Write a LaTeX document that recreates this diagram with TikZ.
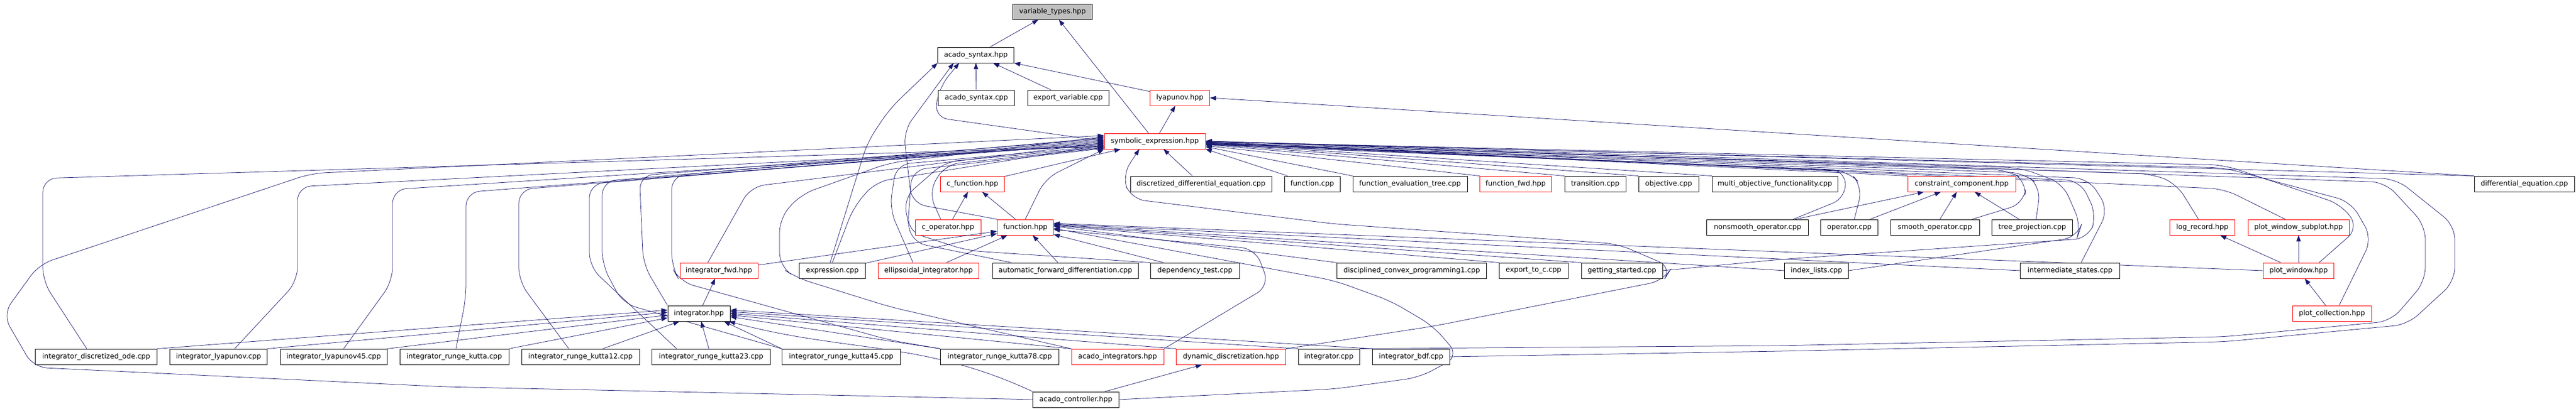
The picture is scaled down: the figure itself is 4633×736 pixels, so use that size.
\documentclass[tikz,border=0pt]{standalone}
\usepackage{fontspec}
\newfontfamily\dejavu{DejaVu Sans}
\usetikzlibrary{arrows.meta}
\definecolor{edgeblue}{HTML}{191970}
\definecolor{rootgray}{HTML}{BFBFBF}
\pgfdeclarelayer{background}
\pgfsetlayers{background,main}
\tikzset{
  file/.style={draw=black, fill=white, line width=0.9pt, minimum height=28pt, inner sep=0pt, font=\dejavu\fontsize{12.6}{14}\selectfont},
  trunc/.style={file, draw=red},
  root/.style={file, fill=rootgray},
  inc/.style={draw=edgeblue, line width=0.75pt, -{Triangle[length=11pt,width=8pt]}},
  via/.style={inc, rounded corners=25pt},
}
\begin{document}
\begin{tikzpicture}[x=1pt, y=1pt]
\useasboundingbox (0,0) rectangle (4633,736);

% top ranks
\node[root, minimum width=143pt]  (vt)    at (1893,715) {variable\_types.hpp};
\node[file, minimum width=137pt]  (as)    at (1755,637) {acado\_syntax.hpp} edge[inc] (vt);
\node[file, minimum width=137pt]  (ascpp) at (1756,560) {acado\_syntax.cpp} edge[inc] (as);
\node[file, minimum width=146pt]  (ev)    at (1921,560) {export\_variable.cpp} edge[inc] (as);
\node[trunc, minimum width=107pt] (ly)    at (2122,560) {lyapunov.hpp} edge[inc] (as);
\node[trunc, minimum width=182pt] (se)    at (2077,482) {symbolic\_expression.hpp}
    edge[inc] (vt)
    edge[inc] (ly);

% rank 4
\node[trunc, minimum width=115pt] (cf)   at (1749,405) {c\_function.hpp} edge[inc] (se);
\node[file, minimum width=254pt]  (dde)  at (2160,405) {discretized\_differential\_equation.cpp} edge[inc] (se);
\node[file, minimum width=100pt]  (fcpp) at (2360,405) {function.cpp} edge[inc] (se.south east);
\node[file, minimum width=206pt]  (fet)  at (2536,405) {function\_evaluation\_tree.cpp};
\node[trunc, minimum width=129pt] (ffwd) at (2726,405) {function\_fwd.hpp};
\node[file, minimum width=110pt]  (tr)   at (2869,405) {transition.cpp};
\node[file, minimum width=108pt]  (obj)  at (3001,405) {objective.cpp};
\node[file, minimum width=226pt]  (mof)  at (3192,405) {multi\_objective\_functionality.cpp};
\node[trunc, minimum width=194pt] (cc)   at (3528,405) {constraint\_component.hpp};
\node[file, minimum width=180pt]  (de)   at (4540,405) {differential\_equation.cpp};

% rank 5
\node[trunc, minimum width=118pt] (cop) at (1705,327) {c\_operator.hpp} edge[inc] (cf);
\node[trunc, minimum width=101pt] (fh)  at (1844,327) {function.hpp} edge[inc] (cf);
\node[file, minimum width=183pt]  (nso) at (3161,327) {nonsmooth\_operator.cpp} edge[inc] (cc);
\node[file, minimum width=103pt]  (op)  at (3326,327) {operator.cpp} edge[inc] (cc);
\node[file, minimum width=160pt]  (sop) at (3480,327) {smooth\_operator.cpp} edge[inc] (cc);
\node[file, minimum width=145pt]  (tp)  at (3655,327) {tree\_projection.cpp} edge[inc] (cc);
\node[trunc, minimum width=117pt] (lr)  at (3961,327) {log\_record.hpp};
\node[trunc, minimum width=182pt] (pws) at (4134,327) {plot\_window\_subplot.hpp};

% rank 6
\node[trunc, minimum width=140pt] (ifwd) at (1293,249) {integrator\_fwd.hpp} edge[inc] (fh);
\node[file, minimum width=119pt]  (ex)   at (1497,249) {expression.cpp} edge[inc] (fh);
\node[trunc, minimum width=181pt] (ei)   at (1670,249) {ellipsoidal\_integrator.hpp} edge[inc] (fh);
\node[file, minimum width=262pt]  (afd)  at (1916,249) {automatic\_forward\_differentiation.cpp} edge[inc] (fh);
\node[file, minimum width=160pt]  (dt)   at (2149,249) {dependency\_test.cpp} edge[inc] (fh);
\node[file, minimum width=269pt]  (dcp)  at (2539,249) {disciplined\_convex\_programming1.cpp};
\node[file, minimum width=124pt]  (etc)  at (2758,249) {export\_to\_c.cpp};
\node[file, minimum width=146pt]  (gs)   at (2917,249) {getting\_started.cpp};
\node[file, minimum width=115pt]  (il)   at (3267,249) {index\_lists.cpp};
\node[file, minimum width=179pt]  (ist)  at (3723,249) {intermediate\_states.cpp};
\node[trunc, minimum width=127pt] (pw)   at (4134,249) {plot\_window.hpp}
    edge[inc] (lr)
    edge[inc] (pws);

% rank 7
\node[file, minimum width=112pt]  (ih) at (1257,172) {integrator.hpp} edge[inc] (ifwd);
\node[trunc, minimum width=142pt] (pc) at (4194,172) {plot\_collection.hpp} edge[inc] (pw);

% rank 8
\node[file, minimum width=219pt]  (ido)   at (173,94)  {integrator\_discretized\_ode.cpp};
\node[file, minimum width=175pt]  (ily)   at (393,94)  {integrator\_lyapunov.cpp};
\node[file, minimum width=192pt]  (ily45) at (600,94)  {integrator\_lyapunov45.cpp};
\node[file, minimum width=196pt]  (irk)   at (817,94)  {integrator\_runge\_kutta.cpp};
\node[file, minimum width=212pt]  (irk12) at (1044,94) {integrator\_runge\_kutta12.cpp};
\node[file, minimum width=213pt]  (irk23) at (1279,94) {integrator\_runge\_kutta23.cpp} edge[inc] (ih);
\node[file, minimum width=213pt]  (irk45) at (1513,94) {integrator\_runge\_kutta45.cpp};
\node[file, minimum width=213pt]  (irk78) at (1798,94) {integrator\_runge\_kutta78.cpp};
\node[trunc, minimum width=166pt] (ai)    at (2010,94) {acado\_integrators.hpp};
\node[trunc, minimum width=197pt] (dd)    at (2214,94) {dynamic\_discretization.hpp};
\node[file, minimum width=110pt]  (icpp)  at (2390,94) {integrator.cpp};
\node[file, minimum width=139pt]  (ibdf)  at (2538,94) {integrator\_bdf.cpp};

% rank 9
\node[file, minimum width=155pt]  (ac) at (1935,17) {acado\_controller.hpp} edge[inc] (dd);

\begin{pgfonlayer}{background}
% into acado_syntax.hpp
\draw[via] (se.west) -- (1680,525) -- (1690,580) -- ([xshift=-30pt]as.south);
\draw[via] (fh.north west) -- (1640,370) -- (1625,500) -- ([xshift=-40pt]as.south);
\draw[via] ([xshift=-4pt]ex.north) -- (1560,480) -- (1600,540) -- (as.south west);
% rank 4 into symbolic_expression.hpp
\draw[inc] (fet.north west) -- ([yshift=-10pt]se.east);
\draw[inc] (ffwd.north west) -- ([yshift=-8pt]se.east);
\draw[inc] (tr.north west) -- ([yshift=-6pt]se.east);
\draw[inc] (obj.north west) -- ([yshift=-5pt]se.east);
\draw[inc] (mof.north west) -- ([yshift=-4pt]se.east);
\draw[inc] (cc.north west) -- ([yshift=-2pt]se.east);
\draw[inc] (de.north west) -- (se.east);
\draw[inc] (de.north west) -- (ly.east);
% left side into symbolic_expression.hpp
\draw[via] ([xshift=-13pt]cop.north) -- (1670,390) -- (1700,440) -- ([yshift=-12pt]se.west);
\draw[via] (fh.north) -- (1880,415) -- (se.south west);
\draw[via] ([xshift=-20pt]ifwd.north) -- (1350,400) -- ([yshift=-3pt]se.west);
\draw[via] (ex.north) -- (1535,363) -- (1575,409) -- ([yshift=-7pt]se.west);
\draw[via] ([xshift=-28pt]ei.north) -- (1600,360) -- (1612,440) -- ([yshift=-9pt]se.west);
\draw[via] ([xshift=-97pt]afd.north) -- (1640,300) -- (1625,380) -- (1700,445) -- ([yshift=-11pt]se.west);
\draw[via] (dt.north west) -- (1740,285) -- (1632,320) -- (1640,430) -- ([yshift=-13pt]se.west);
% integrators into symbolic_expression.hpp
\draw[via] ([xshift=-17pt]ido.north) -- (77,230) -- (77,415) -- ([yshift=-10pt]se.west);
\draw[via] ([xshift=29pt]ily.north) -- (535,230) -- (535,400) -- ([yshift=-8pt]se.west);
\draw[via] ([xshift=18pt]ily45.north) -- (706,230) -- (706,395) -- ([yshift=-6pt]se.west);
\draw[via] ([xshift=3pt]irk.north) -- (838,200) -- (838,390) -- ([yshift=-4pt]se.west);
\draw[via] ([xshift=-21pt]irk12.north) -- (933,230) -- (933,395) -- ([yshift=-2pt]se.west);
\draw[via] ([xshift=-62pt]irk23.north) -- (1060,256) -- (1060,405) -- (se.west);
\draw[via] (irk45.north west) -- (1120,190) -- (1083,260) -- (1083,410) -- ([yshift=2pt]se.west);
\draw[via] (ih.north west) -- (1157,260) -- (1150,420) -- ([yshift=4pt]se.west);
\draw[via] (irk78.north west) -- (1600,124) -- (1223,229) -- (1208,256) -- (1208,420) -- ([yshift=6pt]se.west);
\draw[via] (ai.north west) -- (1600,184) -- (1433,236) -- (1402,256) -- (1402,343) -- (1440,386) -- (1600,443) -- ([yshift=8pt]se.west);
\draw[via] (ac.west) -- (800,40) -- (60,75) -- (5,170) -- (70,260) -- (560,424) -- ([yshift=10pt]se.west);
\draw[via] (dd.north east) -- (2578,149) -- (2992,231) -- (3007,255) -- (2910,297) -- (2400,333) -- (2034,378) -- (2018,420) -- ([xshift=-28pt]se.south);
% right side into symbolic_expression.hpp
\draw[via] ([xshift=64pt]nso.north) -- (3320,380) -- (3318,430) -- ([yshift=-6pt]se.east);
\draw[via] ([xshift=9pt]op.north) -- (3350,400) -- (3325,428) -- ([yshift=-6pt]se.east);
\draw[via] ([xshift=67pt]sop.north) -- (3640,370) -- (3645,410) -- (3610,430) -- ([yshift=-5pt]se.east);
\draw[via] ([xshift=7pt]tp.north) -- (3670,400) -- (3640,425) -- ([yshift=-5pt]se.east);
\draw[via] (il.east) -- (3736,309) -- (3743,330) -- (3710,406) -- (3634,434) -- ([yshift=-4pt]se.east);
\draw[via] (gs.east) -- (3200,269) -- (3756,307) -- (3771,349) -- (3741,411) -- ([yshift=-4pt]se.east);
\draw[via] ([xshift=20pt]ist.north) -- (3792,359) -- (3756,415) -- ([yshift=-3pt]se.east);
\draw[via] ([xshift=-7pt]lr.north) -- (3914,406) -- (3870,423) -- ([yshift=-2pt]se.east);
\draw[via] ([xshift=-24pt]pws.north) -- (4000,396) -- ([yshift=-2pt]se.east);
\draw[via] ([xshift=37pt]pw.north) -- (4242,326) -- (4211,368) -- (4000,439) -- ([yshift=-1pt]se.east);
\draw[via] ([xshift=13pt]pc.north) -- (4266,307) -- (4228,373) -- (4000,434) -- ([yshift=-1pt]se.east);
\draw[via] (icpp.north east) -- (3200,114) -- (4000,130) -- (4300,158) -- (4362,230) -- (4362,330) -- (4290,408) -- (se.east);
\draw[via] (ibdf.east) -- (3200,104) -- (4000,121) -- (4330,152) -- (4415,230) -- (4415,330) -- (4310,414) -- (se.east);
% into function.hpp
\draw[inc] (dcp.north west) -- ([yshift=2pt]fh.east);
\draw[inc] (etc.north west) -- ([yshift=3pt]fh.east);
\draw[inc] (gs.north west) -- ([yshift=4pt]fh.east);
\draw[inc] (il.west) -- ([yshift=5pt]fh.east);
\draw[inc] (ist.west) -- ([yshift=6pt]fh.east);
\draw[inc] (pw.west) -- ([yshift=7pt]fh.east);
\draw[via] (ai.north east) -- (2283,222) -- (2258,288) -- ([yshift=-4pt]fh.east);
\draw[via] (ac.east) -- (2400,36) -- (2553,57) -- (2624,95) -- (2578,149) -- (2502,194) -- (2400,231) -- ([yshift=-2pt]fh.east);
% into integrator.hpp
\draw[inc] (ido.north east) -- ([yshift=6pt]ih.west);
\draw[inc] (ily.north east) -- ([yshift=2pt]ih.west);
\draw[inc] (ily45.north east) -- ([yshift=-3pt]ih.west);
\draw[inc] (irk.north east) -- ([yshift=-8pt]ih.west);
\draw[inc] ([xshift=40pt]irk12.north) -- ([xshift=-35pt]ih.south);
\draw[inc] (irk45.north west) -- ([xshift=45pt]ih.south);
\draw[inc] (irk78.north west) -- ([yshift=-6pt]ih.east);
\draw[inc] (ai.north west) -- ([yshift=-3pt]ih.east);
\draw[inc] (dd.north west) -- (ih.east);
\draw[inc] (icpp.north west) -- ([yshift=3pt]ih.east);
\draw[inc] (ibdf.north west) -- ([yshift=6pt]ih.east);
\draw[inc] (ac.north west) to[out=155,in=-15] ([xshift=54pt]ih.south);
\end{pgfonlayer}
\end{tikzpicture}
\end{document}
